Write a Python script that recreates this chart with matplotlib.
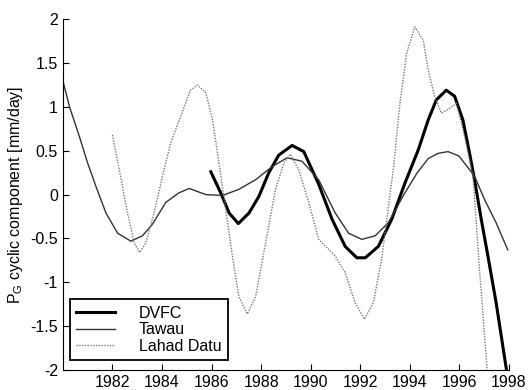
import matplotlib
matplotlib.use("Agg")
import matplotlib.pyplot as plt

plt.rcParams.update({'font.size': 11.5, 'font.family': 'Liberation Sans', 'axes.unicode_minus': False,
                     'mathtext.fontset': 'custom', 'mathtext.rm': 'Liberation Sans',
                     'mathtext.it': 'Liberation Sans'})

# values
dvfc_year = [1985.97, 1986.37, 1986.71, 1987.08, 1987.51, 1987.91, 1988.31, 1988.71, 1989.25,
             1989.72, 1990.32, 1990.86, 1991.39, 1991.86, 1992.2, 1992.73, 1993.27, 1993.8,
             1994.34, 1994.74, 1995.07, 1995.47, 1995.81, 1996.14, 1996.41, 1996.61, 1996.88,
             1997.15, 1997.48, 1997.9]
dvfc_val = [0.26, 0.02, -0.21, -0.33, -0.21, -0.02, 0.25, 0.45, 0.56,
            0.49, 0.12, -0.28, -0.59, -0.72, -0.72, -0.59, -0.28, 0.13,
            0.51, 0.85, 1.08, 1.19, 1.12, 0.85, 0.47, 0.17, -0.28,
            -0.70, -1.23, -2.0]

tawau_year = [1980.0, 1980.27, 1980.67, 1981.0, 1981.34, 1981.74, 1982.21, 1982.74, 1983.21,
              1983.61, 1984.15, 1984.68, 1985.1, 1985.77, 1986.44, 1987.1, 1987.78, 1988.45,
              1989.05, 1989.65, 1990.32, 1990.99, 1991.53, 1992.06, 1992.6, 1993.13, 1993.8,
              1994.3, 1994.74, 1995.14, 1995.54, 1995.98, 1996.31, 1996.61, 1997.02, 1997.48,
              1997.95]
tawau_val = [1.30, 1.00, 0.66, 0.36, 0.09, -0.21, -0.44, -0.53, -0.47,
             -0.34, -0.09, 0.02, 0.07, 0.0, -0.01, 0.06, 0.17, 0.32,
             0.42, 0.38, 0.17, -0.21, -0.44, -0.51, -0.47, -0.32, 0.02,
             0.25, 0.41, 0.47, 0.49, 0.44, 0.32, 0.21, -0.06, -0.32,
             -0.63]

lahad_year = [1982.0, 1982.28, 1982.61, 1982.88, 1983.1, 1983.35, 1983.68, 1984.02, 1984.35,
              1984.75, 1985.15, 1985.43, 1985.77, 1986.04, 1986.3, 1986.57, 1986.84, 1987.1,
              1987.44, 1987.78, 1988.18, 1988.58, 1988.92, 1989.18, 1989.52, 1989.92, 1990.32,
              1990.99, 1991.39, 1991.79, 1992.17, 1992.53, 1992.86, 1993.07, 1993.33, 1993.6,
              1993.87, 1994.2, 1994.54, 1994.74, 1995.0, 1995.27, 1995.54, 1995.88, 1996.21,
              1996.55, 1996.81, 1997.12]
lahad_val = [0.68, 0.28, -0.21, -0.55, -0.66, -0.55, -0.21, 0.21, 0.59,
             0.89, 1.19, 1.25, 1.16, 0.85, 0.36, -0.17, -0.70, -1.16,
             -1.36, -1.16, -0.55, 0.06, 0.36, 0.46, 0.28, -0.09, -0.51,
             -0.70, -0.89, -1.23, -1.42, -1.23, -0.74, -0.28, 0.28, 1.04,
             1.61, 1.91, 1.76, 1.42, 1.12, 0.93, 0.97, 1.04, 0.66,
             0.21, -0.85, -2.0]

years = list(range(1982, 1999, 2))
yticks = [-2, -1.5, -1, -0.5, 0, 0.5, 1, 1.5, 2]
ylabels = ['-2', '-1.5', '-1', '-0.5', '0', '0.5', '1', '1.5', '2']

fig = plt.figure(figsize=(5.28, 3.9), dpi=100)
ax = fig.add_axes([0.119, 0.051, 0.845, 0.90])

ax.plot(dvfc_year, dvfc_val, '-', color='black', lw=2.2, label='DVFC')
ax.plot(tawau_year, tawau_val, '-', color='#333333', lw=1.0, label='Tawau')
ax.plot(lahad_year, lahad_val, color='#777777', lw=1.0, linestyle=(0, (1, 1)), label='Lahad Datu')

ax.set_xlim(1980, 1998)
ax.set_ylim(-2, 2)
ax.set_xticks(years)
ax.set_yticks(yticks)
ax.set_yticklabels(ylabels)
ax.spines['top'].set_visible(False)
ax.spines['right'].set_visible(False)
ax.tick_params(direction='in', length=4)
ax.set_ylabel('P$_{\\mathrm{G}}$ cyclic component [mm/day]')

leg = ax.legend(loc='lower left', fancybox=False, edgecolor='black', fontsize=11.5,
                bbox_to_anchor=(0.016, 0.028), borderaxespad=0, handlelength=2.4,
                handletextpad=1.5, labelspacing=0.1, borderpad=0.4, framealpha=1)
leg.get_frame().set_linewidth(1.3)

plt.savefig('out.png', dpi=100)
